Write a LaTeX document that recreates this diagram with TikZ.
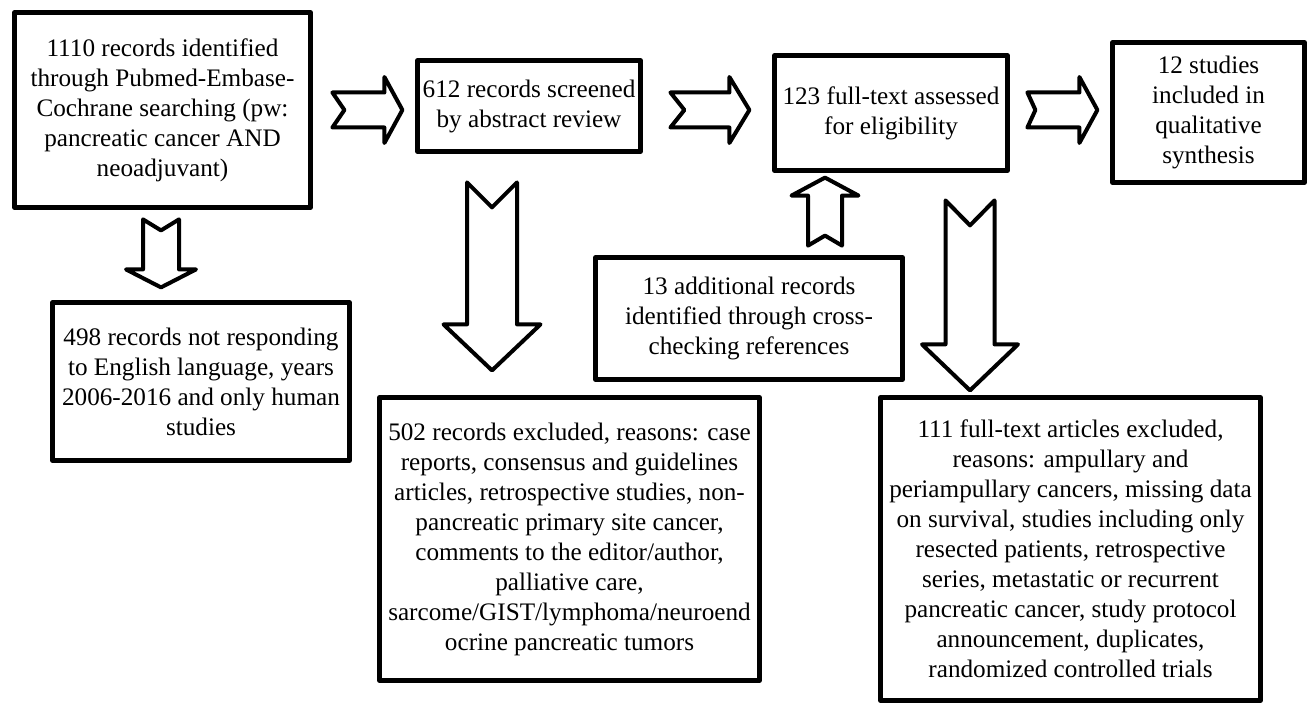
\documentclass[tikz,border=0pt]{standalone}
\usepackage{fontspec}
\setmainfont{Liberation Serif}
\usetikzlibrary{calc}

\tikzset{
	box/.style={draw, line width=2.4pt, line join=round, align=center, inner sep=2pt,
		font=\fontsize{12.6pt}{15pt}\selectfont},
	arrowline/.style={draw, line width=2pt, line join=round, fill=white},
	% hollow block arrow: length, shaft half width, head half width, head length, notch depth
	pics/fatarrow/.style n args={5}{code={
		\draw[arrowline] (0,#2) -- ({#1-#4},#2) -- ({#1-#4},#3) -- (#1,0)
			-- ({#1-#4},-#3) -- ({#1-#4},-#2) -- (0,-#2) -- (#5,0) -- cycle;
	}}
}

\begin{document}
\begin{tikzpicture}[x=0.5pt,y=-0.5pt]
	\useasboundingbox (0,0) rectangle (1309,705);
	
	% Main flow
	\node[box, minimum width=148pt, minimum height=97.5pt] (ident) at (162.5,110)
		{1110 records identified\\ through Pubmed-Embase-\\ Cochrane searching (pw:\\ pancreatic cancer AND\\ neoadjuvant)};
	\node[box, minimum width=111.5pt, minimum height=45.5pt] (screen) at (529,106)
		{612 records screened\\ by abstract review};
	\node[box, minimum width=116.5pt, minimum height=57.5pt] (full) at (891,113)
		{123 full-text assessed\\ for eligibility};
	\node[box, minimum width=96pt, minimum height=70pt] (incl) at (1208.5,112.5)
		{12 studies\\ included in\\ qualitative\\ synthesis};
	
	% Excluded and added records
	\node[box, minimum width=148.5pt, minimum height=79pt] (lang) at (201,381.5)
		{498 records not responding\\ to English language, years\\ 2006-2016 and only human\\ studies};
	\node[box, minimum width=190pt, minimum height=141.5pt] (excla) at (569.5,539)
		{502 records excluded, reasons: case\\ reports, consensus and guidelines\\ articles, retrospective studies, non-\\ pancreatic primary site cancer,\\ comments to the editor/author,\\ palliative care,\\ sarcome/GIST/lymphoma/neuroend\\ ocrine pancreatic tumors};
	\node[box, minimum width=153.5pt, minimum height=61pt] (extra) at (749,318.5)
		{13 additional records\\ identified through cross-\\ checking references};
	\node[box, minimum width=190pt, minimum height=151.5pt] (exclb) at (1070.5,549)
		{111 full-text articles excluded,\\ reasons: ampullary and\\ periampullary cancers, missing data\\ on survival, studies including only\\ resected patients, retrospective\\ series, metastatic or recurrent\\ pancreatic cancer, study protocol\\ announcement, duplicates,\\ randomized controlled trials};
	
	% Horizontal arrows
	\pic at ($(ident.east)+(19.5,0)$) {fatarrow={70}{17.5}{33}{18}{12}};
	\pic at ($(screen.east)+(27.5,4)$) {fatarrow={79}{17.5}{33}{20}{14}};
	\pic at ($(full.east)+(17.5,-3)$) {fatarrow={70}{17.5}{33}{18}{8}};
	
	% Vertical arrows
	\pic[rotate=-90] at ($(ident.south)+(-1.5,9.5)$) {fatarrow={68}{18}{35}{18}{11}};
	\pic[rotate=-90] at ($(screen.south)+(-37,28.5)$) {fatarrow={188}{25}{48.5}{46}{25}};
	\pic[rotate=90] at ($(extra.north)+(76,-9.5)$) {fatarrow={68}{17}{33.5}{18}{10}};
	\pic[rotate=-90] at ($(full.south)+(79,27.5)$) {fatarrow={190}{24.5}{48}{46}{25}};
\end{tikzpicture}
\end{document}
